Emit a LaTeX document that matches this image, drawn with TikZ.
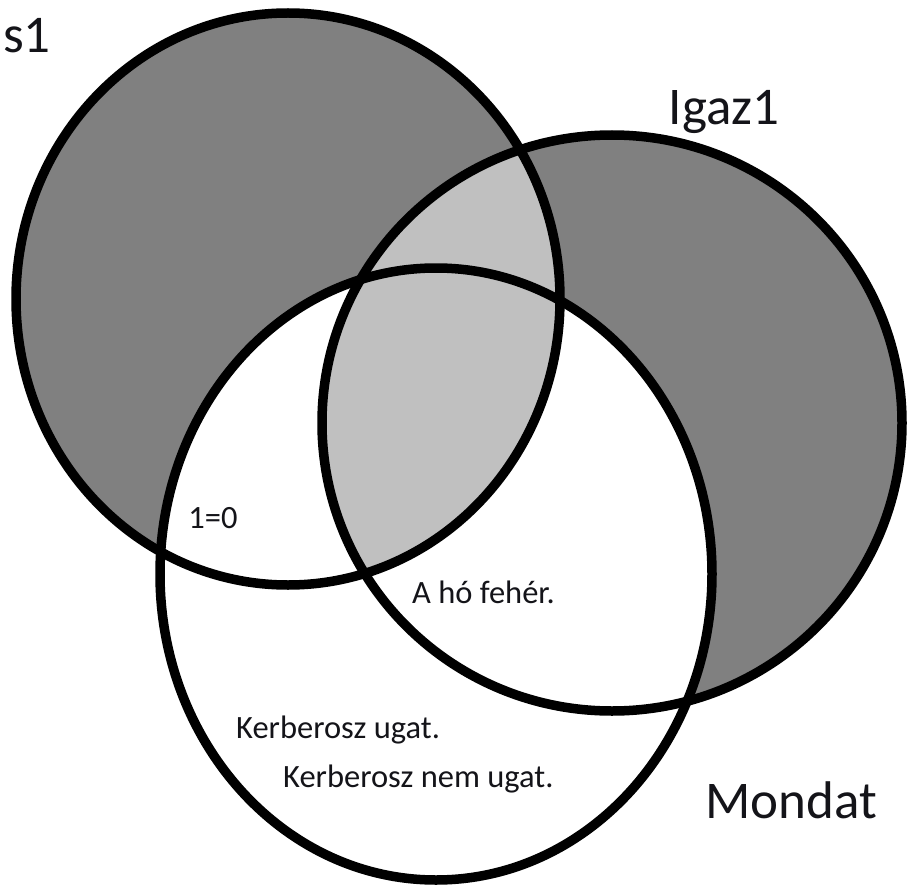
\documentclass[tikz,border=0pt]{standalone}
\usepackage{fontspec}
\setmainfont{Carlito}
\definecolor{darkfill}{RGB}{128,128,128}
\definecolor{lightfill}{RGB}{192,192,192}
\definecolor{txt}{RGB}{20,20,25}
\tikzset{
  outline/.style={draw=black, line width=9.5pt},
  bigtext/.style={inner sep=0pt, text=txt, font=\fontsize{53}{60}\selectfont},
  smalltext/.style={inner sep=0pt, text=txt, font=\fontsize{32.5}{38}\selectfont},
}
\begin{document}
\begin{tikzpicture}[x=1pt,y=-1pt]
\useasboundingbox (0,0) rectangle (908,888);
\def\Hpath{(288,299) ellipse [x radius=272pt, y radius=286pt]}
\def\Ipath{(612,423) ellipse [x radius=290pt, y radius=288pt]}
\def\Mpath{(436,574) ellipse [x radius=276pt, y radius=306pt]}
\fill[darkfill] \Hpath;
\fill[darkfill] \Ipath;
\fill[white] \Mpath;
\begin{scope}
  \clip \Hpath;
  \fill[lightfill] \Ipath;
\end{scope}
\draw[outline] \Hpath;
\draw[outline] \Ipath;
\draw[outline] \Mpath;
\node[bigtext, anchor=base east] (hamis) at (51,53) {s1};
\node[bigtext, anchor=base] (igaz) at (724,125) {Igaz1};
\node[bigtext, anchor=base] (mondat) at (791,818) {Mondat};
\node[smalltext, anchor=base] (egyzero) at (213,528) {1=0};
\node[smalltext, anchor=base west] (ho) at (412,603) {A hó fehér.};
\node[smalltext, anchor=base west] (kug) at (236,738) {Kerberosz ugat.};
\node[smalltext, anchor=base west] (knem) at (283,787) {Kerberosz nem ugat.};
\end{tikzpicture}
\end{document}
